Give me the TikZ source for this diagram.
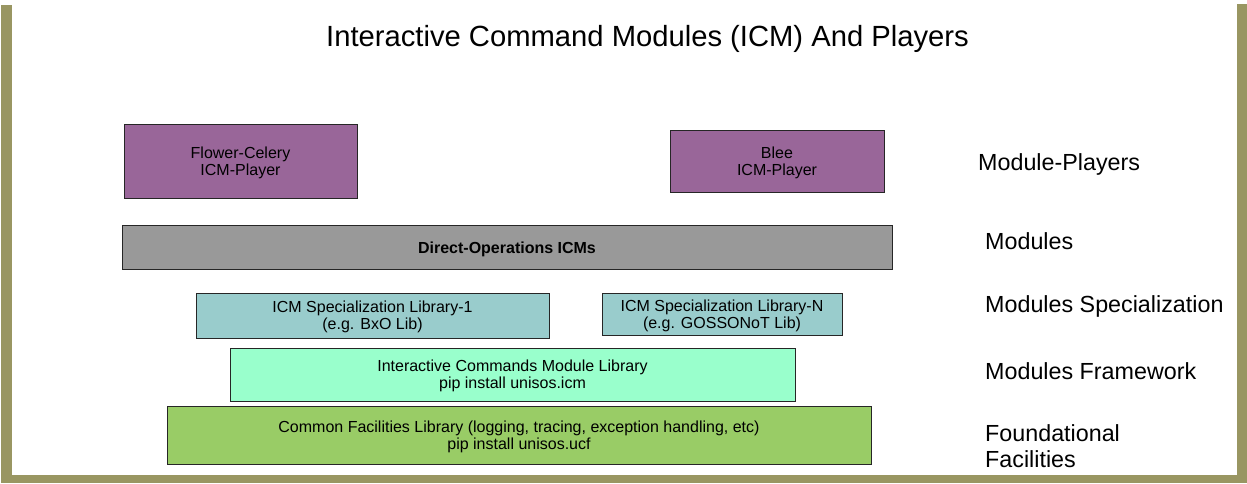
\documentclass[tikz,border=0pt]{standalone}
\usepackage{fontspec}
\setmainfont{Liberation Sans}
\definecolor{olive}{RGB}{153,150,98}
\definecolor{plum}{RGB}{153,102,153}
\definecolor{grayb}{RGB}{153,153,153}
\definecolor{teal}{RGB}{153,204,204}
\definecolor{mint}{RGB}{153,255,204}
\definecolor{leaf}{RGB}{153,204,102}
\begin{document}
\begin{tikzpicture}[x=1pt,y=-1pt,
  box/.style={draw=black!85,line width=0.8pt,rectangle,inner sep=0pt},
  boxtext/.style={align=center,inner sep=0pt,font=\fontsize{16}{16.8}\selectfont},
  layer/.style={anchor=base west,align=left,inner sep=0pt,font=\fontsize{23.3}{25.5}\selectfont}]
\useasboundingbox (0,0) rectangle (1247,483);
\fill[white] (0,0) rectangle (1247,483);
% frame
\fill[olive] (1,5) rectangle (12,483);
\fill[olive] (1,475) rectangle (1247,483);
\fill[olive] (1237,4) rectangle (1247,483);
% title
\node[font=\fontsize{29.2}{33}\selectfont,anchor=base,inner sep=0pt] (title) at (647.5,46.7) {Interactive Command Modules (ICM) And Players};
% boxes
\node[box,fill=plum,minimum width=233pt,minimum height=74pt] (flower) at (240.5,161) {};
\node[boxtext,yshift=-1.5pt] (flowert) at (flower.center) {Flower-Celery\\ICM-Player};
\node[box,fill=plum,minimum width=214pt,minimum height=62pt] (blee) at (777,161) {};
\node[boxtext,yshift=-1.5pt] (bleet) at (blee.center) {Blee\\ICM-Player};
\node[box,fill=grayb,minimum width=770pt,minimum height=44pt] (direct) at (507,247) {};
\node[boxtext,font=\fontsize{16}{17}\selectfont\bfseries,yshift=-2.2pt] (directt) at (direct.center) {Direct-Operations ICMs};
\node[box,fill=teal,minimum width=353pt,minimum height=45pt] (spec1) at (372.5,315.5) {};
\node[boxtext,yshift=-1.5pt] (spec1t) at (spec1.center) {ICM Specialization Library-1\\(e.g. BxO Lib)};
\node[box,fill=teal,minimum width=240pt,minimum height=42pt] (specN) at (722,314) {};
\node[boxtext,yshift=-1.5pt] (specNt) at (specN.center) {ICM Specialization Library-N\\(e.g. GOSSONoT Lib)};
\node[box,fill=mint,minimum width=565pt,minimum height=53pt] (icmlib) at (512.5,374.5) {};
\node[boxtext,yshift=-1.5pt] (icmlibt) at (icmlib.center) {Interactive Commands Module Library\\pip install unisos.icm};
\node[box,fill=leaf,minimum width=704pt,minimum height=58pt] (ucf) at (519,435) {};
\node[boxtext,yshift=-1.5pt] (ucft) at (ucf.center) {Common Facilities Library (logging, tracing, exception handling, etc)\\pip install unisos.ucf};
% layer labels
\node[layer] (lplayers) at (978,170) {Module-Players};
\node[layer] (lmodules) at (985,249) {Modules};
\node[layer] (lspec) at (985,312.7) {Modules Specialization};
\node[layer] (lframe) at (985,379.5) {Modules Framework};
\node[layer,anchor=west] (lfound) at (985,446) {Foundational\\Facilities};
\end{tikzpicture}
\end{document}
